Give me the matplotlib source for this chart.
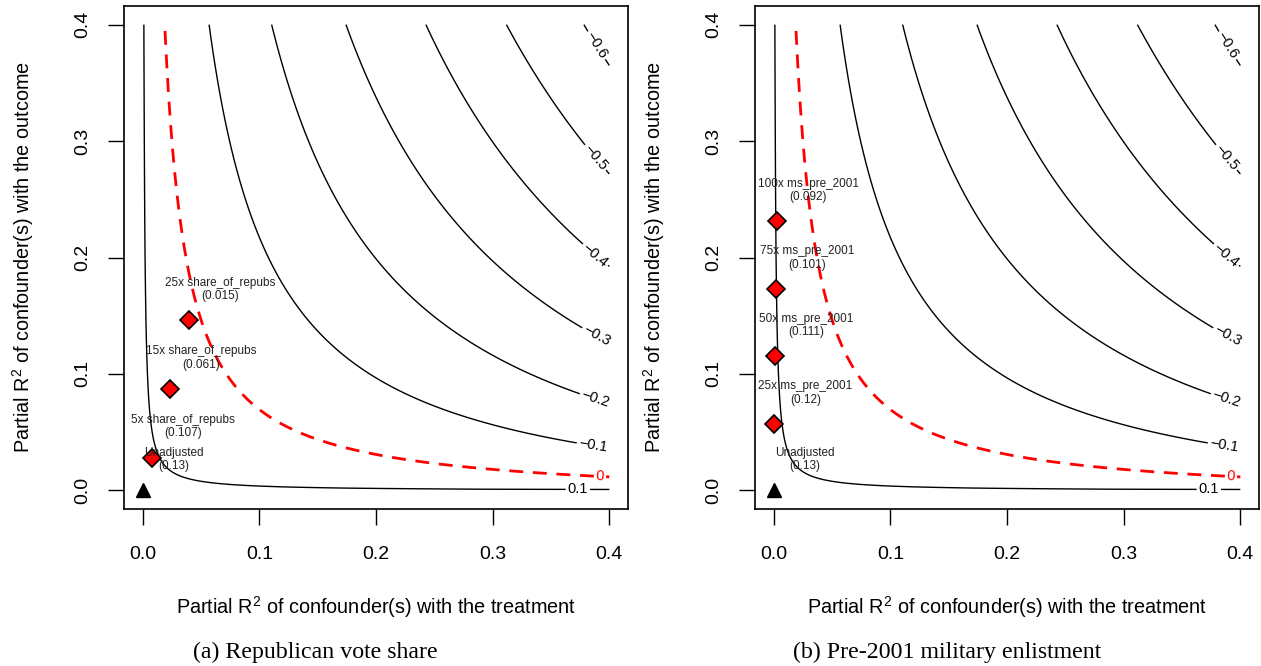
import numpy as np
import matplotlib
matplotlib.use("Agg")
import matplotlib.pyplot as plt

plt.rcParams['font.family'] = ['Liberation Sans', 'DejaVu Sans']
plt.rcParams['contour.negative_linestyle'] = 'solid'

# ---- data ----
estimate = 0.13            # unadjusted estimate (both panels)
bias_scale = 1.48          # se * sqrt(dof)
lim = 0.4
levels = [-0.6, -0.5, -0.4, -0.3, -0.2, -0.1, 0.0, 0.1]
label_x = [0.389, 0.388, 0.388, 0.389, 0.388, 0.386, 0.392, 0.373]
ticks = [0.0, 0.1, 0.2, 0.3, 0.4]
tick_labels = ["0.0", "0.1", "0.2", "0.3", "0.4"]

left_mult = [5, 15, 25]
left_name = "share_of_repubs"
left_r2dz = [0.0079, 0.0238, 0.0397]
left_r2yz = [0.028, 0.087, 0.146]
left_adj = ["0.107", "0.061", "0.015"]

right_mult = [25, 50, 75, 100]
right_name = "ms_pre_2001"
right_r2dz = [0.0007, 0.0014, 0.0021, 0.0028]
right_r2yz = [0.057, 0.115, 0.173, 0.231]
right_adj = ["0.12", "0.111", "0.101", "0.092"]

captions = ["(a) Republican vote share", "(b) Pre-2001 military enlistment"]
caption_x = [315.5, 947]
xlabel = "Partial R$^\\mathregular{2}$ of confounder(s) with the treatment"
ylabel = "Partial R$^\\mathregular{2}$ of confounder(s) with the outcome"

W, H = 1261, 666
fig = plt.figure(figsize=(W / 100, H / 100), dpi=100)

grid = np.linspace(0, lim, 401)
GX, GY = np.meshgrid(grid, grid)
with np.errstate(divide='ignore', invalid='ignore'):
    Z = estimate - bias_scale * np.sqrt(GY * GX / (1 - GX))


def fmt(v):
    s = f"{v:.1f}" if abs(v) > 1e-9 else "0"
    return s.replace("-", "\u2212")


def panel(left_px, mult, name, r2dz, r2yz, adj, caption, cap_x):
    ax = fig.add_axes([left_px / W, (H - 509) / H, 504 / W, 503 / H])
    ext = 0.04 * lim
    ax.set_xlim(-ext, lim + ext)
    ax.set_ylim(-ext, lim + ext)
    for lv, lx in zip(levels, label_x):
        ly = ((estimate - lv) / bias_scale) ** 2 * (1 - lx) / lx
        if lv == 0:
            cs = ax.contour(GX, GY, Z, levels=[lv], colors='red',
                            linewidths=2.0, linestyles=[(0, (5, 3.5))])
            col = 'red'
        else:
            cs = ax.contour(GX, GY, Z, levels=[lv], colors='black',
                            linewidths=1.0, linestyles='solid')
            col = 'black'
        cs.clabel(manual=[(lx, ly)], fmt=fmt, fontsize=10.5, colors=col,
                  inline=True, inline_spacing=2)
    # unadjusted
    ax.plot([0], [0], marker='^', color='black', markersize=10, linestyle='none')
    bump = lim / 15
    ax.text(0 + bump, 0 + bump, f"Unadjusted\n({estimate:g})", ha='center',
            va='center', fontsize=8.5, color='#222222', linespacing=1.15)
    ax.plot(r2dz, r2yz, marker='D', markersize=9.5, markerfacecolor='red',
            markeredgecolor='black', markeredgewidth=1.2, linestyle='none')
    for m, x, y, a in zip(mult, r2dz, r2yz, adj):
        ax.text(x + bump, y + bump, f"{m}x {name}\n({a})", ha='center',
                va='center', fontsize=8.5, color='#222222', linespacing=1.15)
    ax.set_xticks(ticks)
    ax.set_xticklabels(tick_labels)
    ax.set_yticks(ticks)
    ax.set_yticklabels(tick_labels, rotation=90, va='center')
    ax.tick_params(axis='both', length=11.5, width=1.0, labelsize=14, pad=15,
                   direction='out')
    ax.tick_params(axis='y', pad=12)
    for s in ax.spines.values():
        s.set_linewidth(1.2)
    cx = (left_px + 252) / W
    fig.text(cx, 1 - 607 / H, xlabel, ha='center', va='center', fontsize=14.3)
    fig.text((left_px - 101) / W, 1 - 257 / H, ylabel, ha='center', va='center',
             rotation=90, fontsize=14.3)
    fig.text(cap_x / W, 1 - 652 / H, caption, ha='center', va='center',
             fontsize=17.2, family=['Liberation Serif', 'DejaVu Serif'])
    return ax


panel(124, left_mult, left_name, left_r2dz, left_r2yz, left_adj,
      captions[0], caption_x[0])
panel(755, right_mult, right_name, right_r2dz, right_r2yz, right_adj,
      captions[1], caption_x[1])

fig.savefig("out.png", dpi=100)
